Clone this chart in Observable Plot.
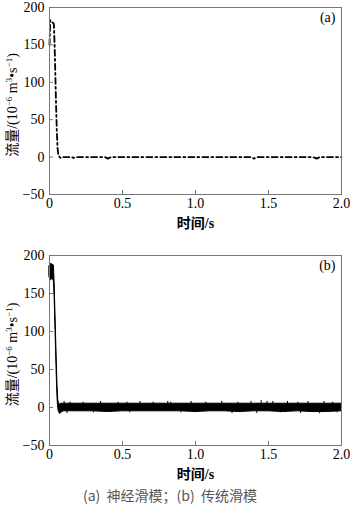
<!DOCTYPE html>
<html><head><meta charset="utf-8">
<script src="https://cdn.jsdelivr.net/npm/d3@7"></script>
<script src="https://cdn.jsdelivr.net/npm/@observablehq/plot@0.6"></script>
<style>
body{margin:0;background:#fff;width:350px;height:510px;overflow:hidden;position:relative;font-family:"Liberation Serif","Noto Sans CJK SC",serif;}
svg{display:block;overflow:visible;}
#a{position:absolute;left:0;top:0;}
#b{position:absolute;left:0;top:245px;}
#cap{position:absolute;left:0;top:483px;width:340px;font-family:"Noto Sans CJK SC",sans-serif;font-size:14px;color:#555;text-align:center;line-height:24px;white-space:pre;}
</style></head>
<body>
<div id="a"></div>
<div id="b"></div>
<div id="cap"></div>
<script>
// ---- shared axis data ----
const xTicks = [0, 0.5, 1, 1.5, 2];
const xTickLabels = ["0", "0.5", "1.0", "1.5", "2.0"];
const yTicks = [-50, 0, 50, 100, 150, 200];
const yTickLabels = ["\u221250", "0", "50", "100", "150", "200"];
const xLabel = "时间/s";
// y label pieces: [text, isSuperscript]
const yLabelParts = [["流量/(10", false], ["\u22126", true], [" m", false], ["3", true], ["•s", false], ["\u22121", true], [")", false]];
const yLabel = "流量/(10⁻⁶ m³•s⁻¹)";
const caption = "(a)  神经滑模；(b)  传统滑模";

// ---- panel (a): neural sliding mode, dash-dot line ----
const tA = [0, 0.005, 0.01, 0.02, 0.03, 0.035, 0.04, 0.045, 0.05, 0.055, 0.06, 0.065, 0.07, 0.075, 0.08, 0.1, 0.15, 0.165, 0.18, 0.25, 0.3, 0.38, 0.39, 0.4, 0.41, 0.42, 0.5, 0.6, 0.7, 0.8, 0.9, 1.0, 1.1, 1.2, 1.3, 1.38, 1.39, 1.4, 1.41, 1.42, 1.5, 1.6, 1.7, 1.8, 1.82, 1.83, 1.84, 1.85, 1.9, 2.0];
const qA = [150, 183, 181, 180, 178, 150, 110, 70, 35, 12, 4, 1, 0, -1, 0, 0, 0, -1, 0, 0, 0, 0, -1, -2, -1, 0, 0, 0, 0, 0, 0, 0, 0, 0, 0, 0, -1, -2, -1, 0, 0, 0, 0, 0, -1, -2, -1, 0, 0, 0];

// ---- panel (b): conventional sliding mode, chattering band ----
const tB = [0, 0.01, 0.02, 0.03, 0.035, 0.04, 0.045, 0.05, 0.055, 0.06, 0.065, 0.07, 0.08, 0.09, 0.1, 0.2, 0.3, 0.4, 0.5, 0.6, 0.7, 0.8, 0.9, 1.0, 1.1, 1.2, 1.3, 1.4, 1.5, 1.6, 1.7, 1.8, 1.9, 2.0];
const hiB = [186, 189, 188, 187, 165, 130, 95, 60, 28, 10, 5, 4, 5, 5, 5, 5, 5, 5, 5, 5, 5, 5, 5, 5, 5, 5, 5, 5, 5, 5, 5, 5, 5, 5];
const loB = [171, 167, 170, 166, 145, 110, 75, 40, 12, -2, -6, -8, -7, -6, -5, -5, -5, -6, -5, -5, -5, -5, -5, -6, -5, -5, -6, -5, -5, -6, -5, -6, -6, -5];
const tUp = [0.10, 0.14, 0.23, 0.35, 0.47, 0.53, 0.62, 0.71, 0.81, 0.83, 0.97, 1.07, 1.18, 1.29, 1.38, 1.45, 1.49, 1.53, 1.63, 1.70, 1.77, 1.88, 1.94];
const upTop = [8, 7, 7, 8, 7, 7, 8, 7, 8, 7, 8, 7, 8, 7, 8, 9, 8, 8, 8, 7, 8, 8, 7];
const tDown = [0.07, 0.12, 0.3, 0.55, 0.9, 1.25, 1.42, 1.58, 1.72, 1.85, 1.97];
const downBot = [-9, -8, -7, -7, -7, -8, -8, -7, -8, -8, -7];

const W = 350, ML = 49, MR = 9;
const frameW = W - ML - MR;

function panel({height, marginTop, marginBottom, tag, marks}) {
  const frameH = height - marginTop - marginBottom;
  const svg = Plot.plot({
    width: W, height, marginLeft: ML, marginRight: MR, marginTop, marginBottom,
    style: {fontFamily: '"Liberation Serif","Noto Sans CJK SC",serif', fontSize: "14px", color: "#000", background: "transparent", overflow: "visible"},
    x: {domain: [0, 2]},
    y: {domain: [-50, 200]},
    marks: [
      ...marks,
      Plot.frame({stroke: "#777", strokeWidth: 1}),
      Plot.tickX(xTicks, {x: d => d, stroke: "#777", insetTop: frameH - 4}),
      Plot.tickY(yTicks, {y: d => d, stroke: "#777", insetRight: frameW - 4}),
      Plot.axisX({ticks: xTicks, tickSize: 0, tickPadding: 4, tickFormat: d => xTickLabels[xTicks.indexOf(d)], label: null}),
      Plot.axisY({ticks: yTicks, tickSize: 0, tickPadding: 5, tickFormat: d => yTickLabels[yTicks.indexOf(d)], label: null}),
      Plot.text([xLabel], {frameAnchor: "bottom", lineAnchor: "middle", textAnchor: "middle", dy: 29, fontSize: 14, fontWeight: "bold", fill: "#000"}),
      Plot.text([yLabel], {frameAnchor: "left", lineAnchor: "middle", textAnchor: "middle", dx: -37, dy: 4, rotate: -90, fontSize: 14, fill: "#000"}),
      Plot.text([tag], {frameAnchor: "top-right", lineAnchor: "middle", textAnchor: "end", dx: -6, dy: 10, fontSize: 14, fill: "#000"})
    ]
  });
  // render the y label with true superscripts
  svg.querySelectorAll("text").forEach(el => {
    if (el.textContent === yLabel) {
      el.textContent = "";
      for (const [s, sup] of yLabelParts) {
        const ts = document.createElementNS("http://www.w3.org/2000/svg", "tspan");
        ts.textContent = s;
        if (sup) { ts.setAttribute("font-size", "9"); ts.setAttribute("dy", "-5"); }
        else if (el.childNodes.length && el.lastChild.getAttribute("dy")) { ts.setAttribute("dy", "5"); }
        el.appendChild(ts);
      }
    }
  });
  return svg;
}

const tableA = tA.map((t, i) => ({t, q: qA[i]}));
const tableB = tB.map((t, i) => ({t, lo: loB[i], hi: hiB[i]}));
const ups = tUp.map((t, i) => ({t, v: upTop[i]}));
const downs = tDown.map((t, i) => ({t, v: downBot[i]}));

const svgA = panel({height: 250, marginTop: 7, marginBottom: 56, tag: "(a)", marks: [
  Plot.line(tableA, {x: "t", y: "q", stroke: "#000", strokeWidth: 1.8, strokeDasharray: "6,3,2,3"})
]});
const svgB = panel({height: 238, marginTop: 10, marginBottom: 38, tag: "(b)", marks: [
  Plot.areaY(tableB, {x: "t", y1: "lo", y2: "hi", fill: "#000", stroke: "#000", strokeWidth: 1}),
  Plot.ruleX(ups, {x: "t", y1: 0, y2: "v", stroke: "#000", strokeWidth: 1}),
  Plot.ruleX(downs, {x: "t", y1: 0, y2: "v", stroke: "#000", strokeWidth: 1})
]});
document.getElementById("a").appendChild(svgA);
document.getElementById("b").appendChild(svgB);
document.getElementById("cap").textContent = caption;
</script>
</body></html>
